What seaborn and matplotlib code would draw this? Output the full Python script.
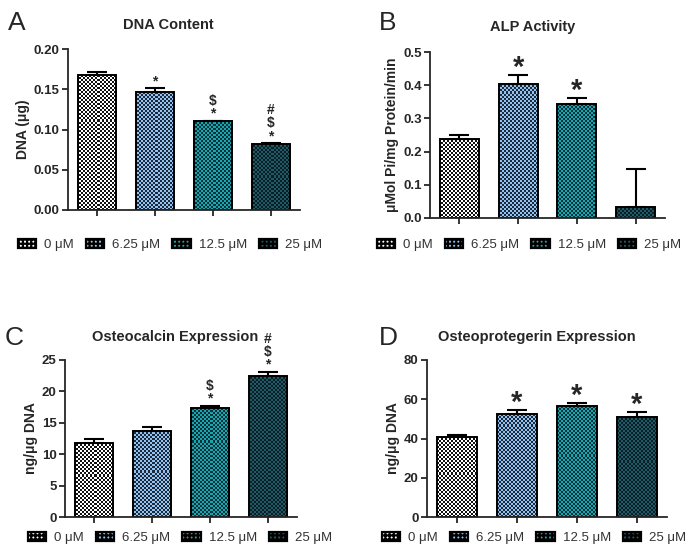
import numpy as np
import matplotlib
matplotlib.use("Agg")
import matplotlib.pyplot as plt
from matplotlib.colors import ListedColormap
from matplotlib.patches import Patch
import seaborn as sns

sns.set_style("ticks")
plt.rcParams['font.family'] = ['Liberation Sans', 'DejaVu Sans']
plt.rcParams['hatch.linewidth'] = 1.6

# ---- data ----
conc_labels = ["0 μM", "6.25 μM", "12.5 μM", "25 μM"]

dna_mean = [0.168, 0.146, 0.110, 0.082]
dna_sem = [0.003, 0.005, 0.001, 0.001]
dna_marks = ["", "*", "\\$\n*", "#\n\\$\n*"]

alp_mean = [0.237, 0.405, 0.343, 0.033]
alp_sem = [0.012, 0.025, 0.017, 0.115]
alp_marks = ["", "*", "*", ""]

ocn_mean = [11.8, 13.7, 17.4, 22.4]
ocn_sem = [0.7, 0.7, 0.3, 0.7]
ocn_marks = ["", "", "\\$\n*", "#\n\\$\n*"]

opg_mean = [40.8, 52.7, 56.6, 51.0]
opg_sem = [0.8, 2.0, 1.5, 2.5]
opg_marks = ["", "*", "*", "*"]

light_cols = ["#ffffff", "#93c2ef", "#12a9b1", "#1f5b67"]
dark_cols = ["#111111", "#1a2a3c", "#0d2f3a", "#0b1e26"]

W, H = 689, 556
fig = plt.figure(figsize=(W / 100, H / 100), dpi=100)


def px_axes(l, r, t, b):
    return fig.add_axes([l / W, 1 - b / H, (r - l) / W, (b - t) / H])


def checker_bars(ax):
    # pixel aligned checkerboard fill (2 px cells), clipped to each bar
    inv = ax.transData.inverted()
    for i, bar in enumerate(ax.patches):
        bb = bar.get_window_extent()
        x0, y0 = np.floor(bb.x0), np.floor(bb.y0)
        nx = int(np.ceil((bb.x1 - x0) / 2.0)) + 1
        ny = int(np.ceil((bb.y1 - y0) / 2.0)) + 1
        (dx0, dy0), (dx1, dy1) = inv.transform([(x0, y0), (x0 + 2 * nx, y0 + 2 * ny)])
        img = (np.indices((ny, nx)).sum(axis=0) % 2).astype(float)
        cmap = ListedColormap([dark_cols[i], light_cols[i]])
        im = ax.imshow(img, extent=(dx0, dx1, dy0, dy1), cmap=cmap, vmin=0, vmax=1,
                       aspect='auto', interpolation='nearest', zorder=1,
                       origin='lower')
        im.set_clip_path(bar)
        bar.set_facecolor('none')
        bar.set_zorder(2)


def panel(l, r, t, b, means, sems, marks, ymax, step, fmt, ylabel, ylsize,
          title, title_xy, letter, letter_xy, big_marks, leg_xy):
    ax = px_axes(l, r, t, b)
    sns.barplot(x=conc_labels, y=means, hue=conc_labels, palette=light_cols,
                legend=False, errorbar=None, width=0.66, ax=ax,
                edgecolor='black', linewidth=1.4)
    ax.set_xlim(-0.5, 3.5)
    ax.set_ylim(0, ymax)
    checker_bars(ax)
    xs = np.arange(len(means))
    ax.errorbar(xs, means, yerr=[np.zeros(len(sems)), sems], fmt='none',
                ecolor='black', elinewidth=1.5, capsize=7, capthick=1.5,
                zorder=3)
    for xi, m, s, mk in zip(xs, means, sems, marks):
        if not mk:
            continue
        if big_marks:
            ax.annotate(mk, (xi, m + s), xytext=(0, -5), textcoords='offset points',
                        ha='center', va='bottom', fontsize=21, fontweight='bold')
        else:
            ax.annotate(mk, (xi, m + s), xytext=(0, 0), textcoords='offset points',
                        ha='center', va='bottom', fontsize=10, fontweight='bold',
                        linespacing=0.9)
    ax.set_xlim(-0.5, 3.5)
    ax.set_ylim(0, ymax)
    ax.set_yticks(np.arange(0, ymax + step / 2, step))
    ax.yaxis.set_major_formatter(matplotlib.ticker.FormatStrFormatter(fmt))
    ax.set_xticks(xs)
    ax.set_xticklabels([])
    ax.set_xlabel('')
    ax.set_ylabel(ylabel, fontsize=ylsize, fontweight='bold', labelpad=3)
    ax.tick_params(axis='both', width=1.3, length=4, labelsize=9.5, direction='out',
                   pad=2)
    for lab in ax.get_yticklabels():
        lab.set_fontweight('bold')
    sns.despine(ax=ax)
    for sp in ['left', 'bottom']:
        ax.spines[sp].set_linewidth(1.3)
    fig.text(title_xy[0] / W, 1 - title_xy[1] / H, title, ha='center', va='center',
             fontsize=10.5, fontweight='bold')
    fig.text(letter_xy[0] / W, 1 - letter_xy[1] / H, letter, fontsize=19,
             ha='left', va='center')
    handles = [Patch(facecolor=light_cols[i], edgecolor='black', hatch='++++',
                     linewidth=1.6, label=conc_labels[i]) for i in range(4)]
    fig.legend(handles=handles, loc='center', ncol=4, frameon=False,
               bbox_to_anchor=(leg_xy[0] / W, 1 - leg_xy[1] / H),
               fontsize=9.5, handlelength=1.4, handleheight=0.75,
               handletextpad=0.6, columnspacing=0.9, labelcolor='#333333')
    return ax


panel(68, 300, 49, 210, dna_mean, dna_sem, dna_marks, 0.20, 0.05, '%.2f',
      'DNA (μg)', 10, 'DNA Content', (168, 25), 'A', (8, 23), False, (170, 245))

panel(430, 665, 52, 218, alp_mean, alp_sem, alp_marks, 0.5, 0.1, '%.1f',
      'μMol Pi/mg Protein/min', 10, 'ALP Activity', (533, 27), 'B', (379, 23),
      True, (529, 245))

panel(65, 297, 360, 517, ocn_mean, ocn_sem, ocn_marks, 25, 5, '%d',
      'ng/μg DNA', 10, 'Osteocalcin Expression', (175, 337), 'C', (5, 338),
      False, (180, 538))

panel(427, 667, 360, 517, opg_mean, opg_sem, opg_marks, 80, 20, '%d',
      'ng/μg DNA', 10, 'Osteoprotegerin Expression', (537, 337), 'D', (379, 338),
      True, (534, 538))

plt.savefig("out.png", dpi=100)
